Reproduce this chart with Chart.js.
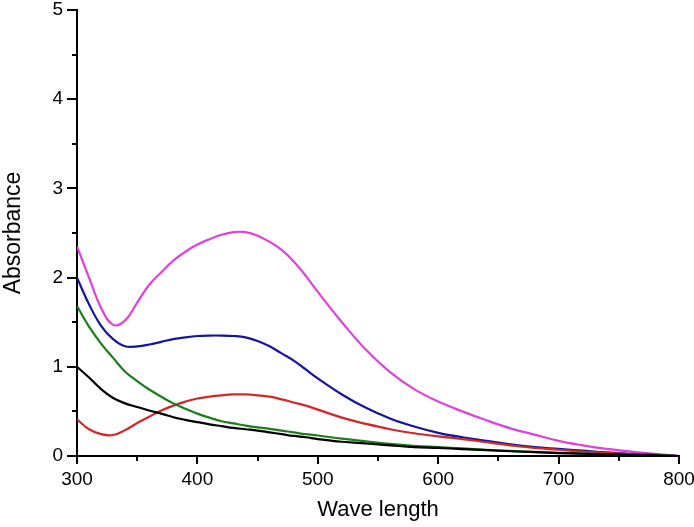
<!DOCTYPE html>
<html>
<head>
<meta charset="utf-8">
<script src="https://cdn.jsdelivr.net/npm/chart.js@4"></script>
<style>
  html, body { margin: 0; padding: 0; background: #fff; }
  #wrap { width: 694px; height: 527px; }
</style>
</head>
<body>
<div id="wrap"><canvas id="uvChart" width="694" height="527"></canvas></div>
<script>
// wavelength (nm)
const wavelengths = [300, 310, 320, 330, 340, 350, 360, 370, 380, 390, 400, 410, 420, 430, 440, 450, 460, 470, 480, 490, 500,
    520, 540, 560, 580, 600, 620, 640, 660, 680, 700, 720, 740, 760, 780, 800];

const magenta = [2.35, 2.00, 1.66, 1.47, 1.52, 1.72, 1.92, 2.06, 2.19, 2.29, 2.37, 2.43, 2.48, 2.51, 2.51, 2.47, 2.40, 2.31, 2.18, 2.02, 1.84,
    1.50, 1.19, 0.94, 0.75, 0.61, 0.50, 0.40, 0.31, 0.24, 0.17, 0.12, 0.08, 0.05, 0.025, 0.0];

const blue = [2.00, 1.70, 1.46, 1.31, 1.23, 1.23, 1.25, 1.28, 1.31, 1.33, 1.345, 1.35, 1.35, 1.345, 1.33, 1.29, 1.23, 1.15, 1.07, 0.97, 0.87,
    0.69, 0.54, 0.42, 0.33, 0.26, 0.21, 0.17, 0.13, 0.10, 0.08, 0.06, 0.04, 0.025, 0.012, 0.0];

const red = [0.41, 0.30, 0.245, 0.235, 0.29, 0.37, 0.44, 0.51, 0.565, 0.61, 0.645, 0.665, 0.68, 0.69, 0.69, 0.68, 0.665, 0.635, 0.60, 0.565, 0.52,
    0.43, 0.36, 0.30, 0.255, 0.22, 0.19, 0.155, 0.12, 0.09, 0.07, 0.05, 0.035, 0.022, 0.01, 0.0];

const green = [1.68, 1.45, 1.26, 1.10, 0.945, 0.84, 0.745, 0.665, 0.59, 0.53, 0.475, 0.43, 0.39, 0.365, 0.34, 0.32, 0.305, 0.285, 0.265, 0.245, 0.23,
    0.195, 0.165, 0.135, 0.115, 0.10, 0.085, 0.07, 0.058, 0.046, 0.036, 0.027, 0.02, 0.013, 0.007, 0.0];

const black = [1.00, 0.88, 0.75, 0.65, 0.59, 0.55, 0.51, 0.475, 0.435, 0.405, 0.38, 0.355, 0.335, 0.315, 0.30, 0.285, 0.265, 0.245, 0.225, 0.21, 0.19,
    0.16, 0.14, 0.12, 0.10, 0.09, 0.078, 0.065, 0.053, 0.043, 0.033, 0.025, 0.018, 0.012, 0.006, 0.0];

const xMinorTicks = [350, 450, 550, 650, 750];
const yMinorTicks = [0.5, 1.5, 2.5, 3.5, 4.5];

const FONT = 'Liberation Sans, Arial, sans-serif';

function series(values, color) {
    return {
        data: wavelengths.map((w, i) => ({ x: w, y: values[i] })),
        borderColor: color,
        borderWidth: 2.2,
        pointRadius: 0,
        fill: false,
        tension: 0.4
    };
}

// short minor ticks outside the axes
const minorTicks = {
    id: 'minorTicks',
    afterDraw(chart) {
        const ctx = chart.ctx;
        const xs = chart.scales.x, ys = chart.scales.y;
        ctx.save();
        ctx.strokeStyle = '#000';
        ctx.lineWidth = 2;
        ctx.beginPath();
        xMinorTicks.forEach(v => {
            const px = Math.round(xs.getPixelForValue(v));
            ctx.moveTo(px, xs.top);
            ctx.lineTo(px, xs.top + 5);
        });
        yMinorTicks.forEach(v => {
            const py = Math.round(ys.getPixelForValue(v));
            ctx.moveTo(ys.right, py);
            ctx.lineTo(ys.right - 5, py);
        });
        ctx.stroke();
        ctx.restore();
    }
};

const ctx = document.getElementById('uvChart').getContext('2d');
new Chart(ctx, {
    type: 'line',
    data: {
        datasets: [
            series(black, '#000000'),
            series(green, '#1b7d1b'),
            series(red, '#d02828'),
            series(blue, '#1414a0'),
            series(magenta, '#e040dc')
        ]
    },
    options: {
        responsive: false,
        animation: false,
        layout: { padding: { top: 0, right: 0, left: 0, bottom: 0 } },
        plugins: {
            legend: { display: false },
            tooltip: { enabled: false }
        },
        scales: {
            x: {
                type: 'linear',
                min: 300,
                max: 800,
                afterFit: s => { s.height = 71; s.paddingRight = 15; },
                ticks: {
                    stepSize: 100,
                    color: '#000',
                    padding: 4,
                    maxRotation: 0,
                    font: { family: FONT, size: 19 }
                },
                grid: { drawOnChartArea: false, drawTicks: true, tickLength: 8, color: '#000', lineWidth: 2 },
                border: { display: true, color: '#000', width: 2 },
                title: {
                    display: true,
                    text: 'Wave length',
                    color: '#000',
                    padding: { top: 10 },
                    font: { family: FONT, size: 22 }
                }
            },
            y: {
                min: 0,
                max: 5,
                afterFit: s => { s.width = 77; s.paddingTop = 10; },
                ticks: {
                    stepSize: 1,
                    color: '#000',
                    padding: 4,
                    font: { family: FONT, size: 19 }
                },
                grid: { drawOnChartArea: false, drawTicks: true, tickLength: 10, color: '#000', lineWidth: 2 },
                border: { display: true, color: '#000', width: 2 },
                title: {
                    display: true,
                    text: 'Absorbance',
                    color: '#000',
                    padding: { top: 0, bottom: 0 },
                    font: { family: FONT, size: 23 }
                }
            }
        }
    },
    plugins: [minorTicks]
});
</script>
</body>
</html>
